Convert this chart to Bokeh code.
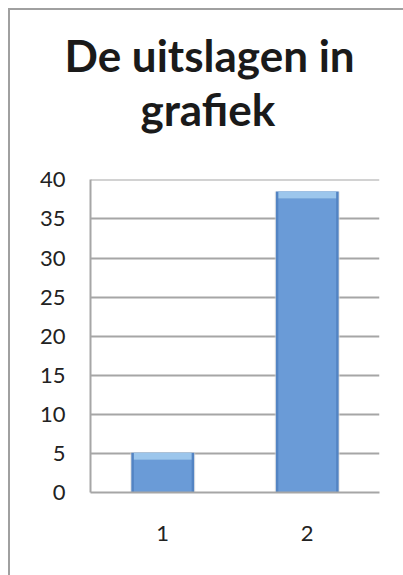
from bokeh.plotting import figure
from bokeh.models import ColumnDataSource, Title, FactorRange, Range1d, FixedTicker
from bokeh.embed import file_html
from bokeh.resources import INLINE

# ---- data ----
categories = ["1", "2"]
counts = [5.1, 38.5]
y_ticks = [0, 5, 10, 15, 20, 25, 30, 35, 40]
title_lines = ["De uitslagen in", "grafiek"]

Y_MAX = 40
frame_h = 313  # approx pixel height of plot frame
bevel = Y_MAX / frame_h * 7

src = ColumnDataSource(dict(
    cat=categories,
    top=counts,
    bev=[c - bevel for c in counts],
))

p = figure(
    x_range=FactorRange(*categories, range_padding=0),
    y_range=Range1d(0, Y_MAX + 0.05),
    width=403, height=575,
    output_backend="svg", toolbar_location=None,
    min_border_left=90, min_border_right=24,
    min_border_top=179, min_border_bottom=83,
)
# outer chart border (left + top), drawn behind a transparent canvas border
p.styles = {
    "background-image": "linear-gradient(#a0a0a0,#a0a0a0), linear-gradient(#a0a0a0,#a0a0a0)",
    "background-size": "2px 600px, 600px 2px",
    "background-position": "8px 8px, 8px 8px",
    "background-repeat": "no-repeat",
    "background-color": "white",
}
p.outline_line_color = None
p.background_fill_color = "white"
p.border_fill_alpha = 0

# bars: soft shadow, darker edge, inner body, top bevel highlight
p.vbar(x="cat", top="top", bottom=0, width=0.45, source=src,
       fill_color="#d9d9d9", fill_alpha=0.6, line_color=None)
p.vbar(x="cat", top="top", bottom=0, width=0.435, source=src,
       fill_color="#5384c3", line_color=None)
p.vbar(x="cat", top="bev", bottom=0, width=0.40, source=src,
       fill_color="#6a9bd7", line_color=None)
p.vbar(x="cat", top="top", bottom="bev", width=0.40, source=src,
       fill_color="#9cc6ec", line_color=None)

# axes
p.yaxis.ticker = FixedTicker(ticks=y_ticks)
p.yaxis.major_tick_line_color = None
p.yaxis.minor_tick_line_color = None
p.yaxis.axis_line_color = "#a6a6a6"
p.yaxis.axis_line_width = 2
p.yaxis.major_label_standoff = 19
p.yaxis.major_label_text_font = "Lato"
p.yaxis.major_label_text_font_size = "22px"
p.yaxis.major_label_text_color = "#222222"

p.xaxis.major_tick_line_color = None
p.xaxis.minor_tick_line_color = None
p.xaxis.axis_line_color = "#a6a6a6"
p.xaxis.axis_line_width = 2
p.xaxis.major_label_standoff = 27
p.xaxis.major_label_text_font = "Lato"
p.xaxis.major_label_text_font_size = "22px"
p.xaxis.major_label_text_color = "#222222"

p.xgrid.grid_line_color = None
p.ygrid.grid_line_color = "#a6a6a6"
p.ygrid.grid_line_width = 2

# spacer between the title and the plot frame
p.add_layout(Title(text=" ", text_font_size="1px", standoff=42), "above")
# title, two lines (added nearest-first), left-aligned with offsets
offsets = {"grafiek": 50, "De uitslagen in": -26}
for txt in reversed(title_lines):
    p.add_layout(Title(text=txt, align="left", offset=offsets[txt],
                       text_font="Lato", text_font_style="bold",
                       text_font_size="44px", text_color="#1a1a1a",
                       standoff=0), "above")

open("out.html", "w").write(file_html(p, INLINE))
